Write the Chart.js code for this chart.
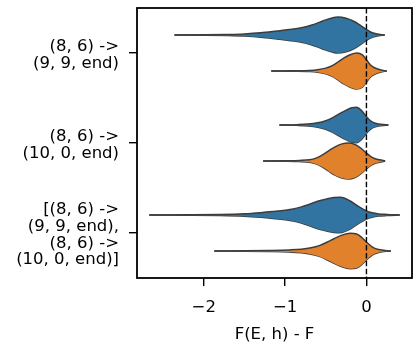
<!DOCTYPE html>
<html>
<head>
<meta charset="utf-8">
<script src="https://cdn.jsdelivr.net/npm/chart.js@4"></script>
<style>
  html, body { margin: 0; padding: 0; background: #fff; }
</style>
</head>
<body>
<canvas id="chart" width="420" height="350"></canvas>
<script>
// categories (y axis, top to bottom)
const categories = [
  ['(8, 6) ->', '(9, 9, end)'],
  ['(8, 6) ->', '(10, 0, end)'],
  ['[(8, 6) ->', '(9, 9, end),', '(8, 6) ->', '(10, 0, end)]']
];
const xTicks = [-2, -1, 0];

// violin profiles: grid of F(E,h)-F values and relative density
const blueX = [
  [-2.36, -2.0, -1.7, -1.5, -1.3, -1.1, -0.95, -0.8, -0.68, -0.58, -0.5, -0.42, -0.35, -0.25, -0.15, -0.07, 0.0, 0.05, 0.12, 0.225],
  [-1.07, -0.85, -0.72, -0.6, -0.5, -0.42, -0.34, -0.26, -0.18, -0.12, -0.06, -0.02, 0.02, 0.06, 0.11, 0.18, 0.27],
  [-2.67, -2.2, -1.8, -1.5, -1.3, -1.15, -1.0, -0.9, -0.8, -0.7, -0.6, -0.5, -0.4, -0.32, -0.2, -0.1, 0.0, 0.07, 0.15, 0.25, 0.41]
];
const blueDensity = [
  [0, 0.01, 0.03, 0.06, 0.12, 0.22, 0.3, 0.4, 0.54, 0.7, 0.84, 0.95, 1.0, 0.93, 0.75, 0.52, 0.3, 0.17, 0.07, 0],
  [0, 0.02, 0.05, 0.12, 0.24, 0.4, 0.6, 0.8, 0.96, 0.98, 0.8, 0.58, 0.36, 0.2, 0.1, 0.04, 0],
  [0, 0.01, 0.03, 0.07, 0.13, 0.19, 0.26, 0.33, 0.45, 0.6, 0.76, 0.88, 0.97, 0.98, 0.78, 0.48, 0.22, 0.12, 0.06, 0.03, 0]
];
const orangeX = [
  [-1.17, -0.9, -0.7, -0.6, -0.5, -0.42, -0.35, -0.28, -0.2, -0.12, -0.05, 0.0, 0.05, 0.1, 0.17, 0.25],
  [-1.27, -1.0, -0.82, -0.7, -0.62, -0.54, -0.46, -0.38, -0.3, -0.22, -0.14, -0.07, 0.0, 0.05, 0.1, 0.16, 0.23],
  [-1.87, -1.5, -1.2, -0.95, -0.8, -0.68, -0.58, -0.48, -0.4, -0.3, -0.2, -0.12, -0.05, 0.02, 0.08, 0.15, 0.3]
];
const orangeDensity = [
  [0, 0.01, 0.03, 0.07, 0.16, 0.3, 0.5, 0.72, 0.9, 1.0, 0.9, 0.62, 0.33, 0.18, 0.07, 0],
  [0, 0.01, 0.03, 0.07, 0.16, 0.34, 0.58, 0.8, 0.95, 1.0, 0.92, 0.72, 0.44, 0.26, 0.14, 0.07, 0],
  [0, 0.01, 0.03, 0.06, 0.1, 0.18, 0.3, 0.5, 0.68, 0.88, 0.98, 0.95, 0.72, 0.42, 0.2, 0.08, 0]
];

const FONT = { family: "'DejaVu Sans', sans-serif", size: 16.5, lineHeight: 1.01 };
const BLUE = '#3274a1';
const ORANGE = '#e1812c';
const EDGE = '#3d3d3d';
const HALF = 0.2;   // max half width of one violin, in category units
const DODGE = 0.2;  // offset of each hue from the category centre

function violin(xs, dens, centre, color) {
  const upper = xs.map((x, i) => ({ x: x, y: centre - dens[i] * HALF }));
  const lower = xs.map((x, i) => ({ x: x, y: centre + dens[i] * HALF }));
  const common = {
    showLine: true, pointRadius: 0, borderColor: EDGE, borderWidth: 1.5,
    cubicInterpolationMode: 'monotone', order: 1
  };
  return [
    Object.assign({ data: upper, backgroundColor: color, fill: '+1' }, common),
    Object.assign({ data: lower, backgroundColor: color, fill: false }, common)
  ];
}

const datasets = [{
  data: [{ x: 0, y: -0.5 }, { x: 0, y: 2.5 }],
  showLine: true, pointRadius: 0, borderColor: '#000', borderWidth: 1.4,
  borderDash: [5.5, 2.4], fill: false, order: 0
}];
categories.forEach((c, i) => {
  datasets.push(...violin(blueX[i], blueDensity[i], i - DODGE, BLUE));
  datasets.push(...violin(orangeX[i], orangeDensity[i], i + DODGE, ORANGE));
});

const frame = {
  id: 'frame',
  afterDraw(chart) {
    const { ctx, chartArea: a } = chart;
    ctx.save();
    ctx.strokeStyle = '#000';
    ctx.lineWidth = 1.8;
    ctx.strokeRect(a.left, a.top, a.right - a.left, a.bottom - a.top);
    ctx.restore();
  }
};

new Chart(document.getElementById('chart'), {
  type: 'scatter',
  data: { datasets: datasets },
  options: {
    responsive: false,
    animation: false,
    layout: { padding: { left: 0, right: 8, top: 8, bottom: 0 } },
    plugins: { legend: { display: false }, tooltip: { enabled: false } },
    scales: {
      x: {
        type: 'linear', min: -2.82, max: 0.56,
        afterBuildTicks: s => { s.ticks = xTicks.map(v => ({ value: v })); },
        afterFit: s => { s.height = 72; s.paddingLeft = 0; s.paddingRight = 0; },
        border: { display: false },
        grid: { drawOnChartArea: false, tickLength: 8, color: '#000', lineWidth: 1.4 },
        ticks: {
          color: '#000', font: FONT, padding: 13, maxRotation: 0,
          callback: v => (v < 0 ? '\u2212' + Math.abs(v) : String(v))
        },
        title: { display: true, text: 'F(E, h) - F', color: '#000', font: FONT, padding: { top: 0, bottom: 7 } }
      },
      y: {
        type: 'linear', reverse: true, min: -0.5, max: 2.5,
        afterBuildTicks: s => { s.ticks = categories.map((c, i) => ({ value: i })); },
        afterFit: s => { s.width = 137; s.paddingTop = 0; s.paddingBottom = 0; },
        border: { display: false },
        grid: { drawOnChartArea: false, tickLength: 8, color: '#000', lineWidth: 1.4 },
        ticks: {
          color: '#000', font: FONT, padding: 10, labelOffset: 2,
          callback: v => categories[v]
        }
      }
    }
  },
  plugins: [frame]
});
</script>
</body>
</html>
